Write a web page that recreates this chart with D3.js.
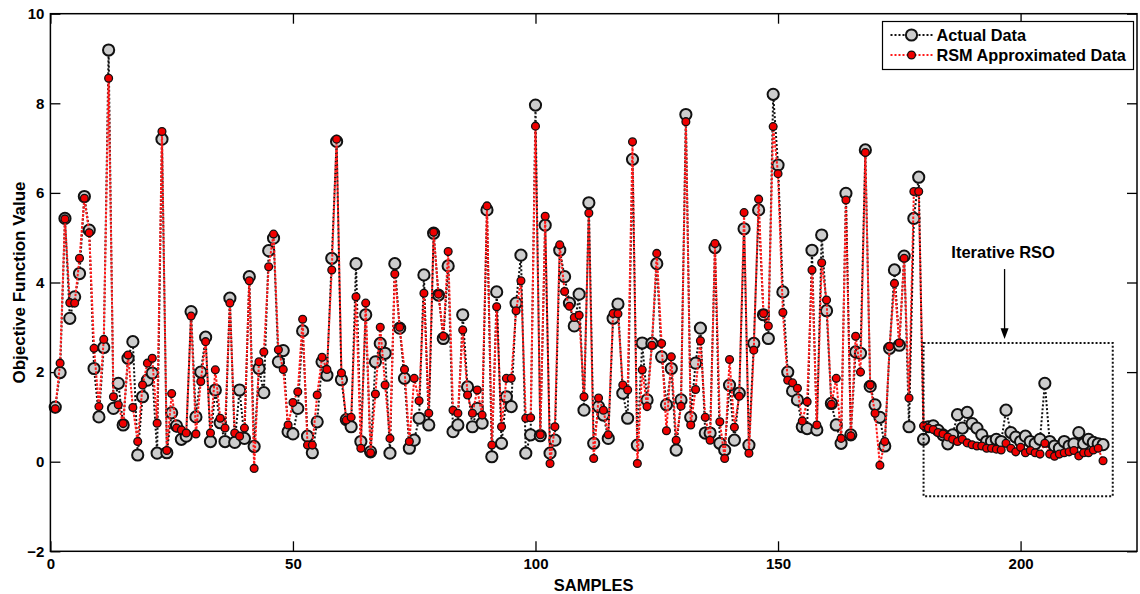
<!DOCTYPE html>
<html>
<head>
<meta charset="utf-8">
<script src="https://cdn.jsdelivr.net/npm/d3@7"></script>
<style>
  body { margin: 0; background: #fff; }
  svg { display: block; }
  text { font-family: "Liberation Sans", Arial, Helvetica, sans-serif; font-weight: bold; fill: #000; }
</style>
</head>
<body>
<svg id="chart" width="1140" height="594"></svg>
<script>
// Objective function value per sample: measured values and RSM approximation
const actualData = [
  1.22, 1.99, 5.43, 3.20, 3.68, 4.20, 5.92, 5.17, 2.08, 1.00,
  2.55, 9.19, 1.19, 1.75, 0.82, 2.31, 2.68, 0.15, 1.45, 1.82,
  1.98, 0.19, 7.20, 0.20, 1.09, 0.80, 0.50, 0.57, 3.35, 1.00,
  2.00, 2.78, 0.45, 1.60, 0.87, 0.45, 3.65, 0.43, 1.60, 0.52,
  4.13, 0.34, 2.08, 1.54, 4.71, 4.99, 2.23, 2.48, 0.67, 0.62,
  1.19, 2.92, 0.57, 0.20, 0.89, 2.23, 1.93, 4.54, 7.15, 1.83,
  0.94, 0.78, 4.42, 0.45, 3.28, 0.22, 2.23, 2.64, 2.42, 0.19,
  4.42, 2.98, 1.86, 0.30, 0.48, 0.97, 4.17, 0.82, 5.10, 3.72,
  2.75, 4.37, 0.67, 0.82, 3.28, 1.67, 0.78, 1.19, 0.86, 5.62,
  0.11, 3.79, 0.41, 1.45, 1.23, 3.54, 4.61, 0.19, 0.60, 7.96,
  0.58, 5.28, 0.19, 0.48, 4.72, 4.13, 3.54, 3.03, 3.74, 1.15,
  5.78, 0.41, 1.23, 1.04, 0.52, 3.20, 3.52, 1.53, 0.97, 6.75,
  0.37, 2.65, 1.38, 2.64, 4.42, 2.34, 1.27, 2.08, 0.26, 1.38,
  7.75, 0.99, 2.20, 2.98, 0.64, 0.64, 4.78, 0.41, 0.26, 1.71,
  0.48, 1.53, 5.20, 0.37, 2.64, 5.62, 3.28, 2.75, 8.20, 6.62,
  3.79, 2.00, 1.58, 1.38, 0.78, 0.74, 4.72, 0.71, 5.06, 3.37,
  1.30, 0.82, 0.41, 5.99, 0.60, 2.45, 2.42, 6.96, 1.68, 1.27,
  0.99, 0.35, 2.53, 4.28, 2.60, 4.59, 0.78, 5.43, 6.35, 0.50,
  0.78, 0.80, 0.70, 0.60, 0.40, 0.60, 1.05, 0.75, 1.10, 0.85,
  0.75, 0.60, 0.45, 0.45, 0.50, 0.45, 1.15, 0.65, 0.55, 0.45,
  0.57, 0.45, 0.40, 0.50, 1.75, 0.45, 0.35, 0.30, 0.45, 0.35,
  0.40, 0.65, 0.40, 0.50, 0.43, 0.40, 0.38
];

const rsmData = [
  1.18, 2.20, 5.42, 3.55, 3.54, 4.54, 5.88, 5.11, 2.53, 1.23,
  2.73, 8.56, 1.45, 1.27, 0.85, 2.38, 1.21, 0.45, 1.71, 2.20,
  2.31, 0.86, 7.37, 0.25, 1.52, 0.75, 0.71, 0.64, 3.25, 0.62,
  1.79, 2.68, 0.64, 2.05, 0.97, 0.75, 3.54, 0.64, 0.57, 0.75,
  4.04, -0.15, 2.23, 2.45, 4.35, 5.08, 2.50, 2.06, 0.82, 1.32,
  1.56, 3.18, 0.37, 0.37, 1.49, 2.33, 2.06, 4.28, 7.20, 1.98,
  0.93, 0.99, 3.68, 0.30, 3.54, 0.20, 1.51, 3.00, 1.71, 0.52,
  4.19, 3.00, 2.06, 0.45, 1.86, 1.36, 3.76, 1.08, 5.12, 3.74,
  2.80, 4.69, 1.15, 1.08, 2.94, 1.49, 1.08, 1.60, 1.04, 5.71,
  0.37, 3.46, 0.78, 1.86, 1.86, 3.37, 4.04, 0.97, 0.98, 7.49,
  0.60, 5.48, -0.04, 0.78, 4.84, 3.80, 3.47, 3.22, 3.27, 1.45,
  5.55, 0.07, 1.42, 1.15, 0.60, 3.31, 3.30, 1.71, 1.60, 7.14,
  -0.04, 2.05, 1.23, 2.60, 4.65, 2.64, 0.69, 2.34, 0.48, 1.24,
  7.59, 0.82, 1.61, 2.70, 0.99, 0.48, 4.87, 0.89, 0.07, 2.28,
  0.77, 1.46, 5.56, 0.19, 2.49, 5.86, 3.31, 3.03, 7.48, 6.43,
  3.33, 1.82, 1.76, 1.64, 0.91, 1.34, 4.28, 0.82, 4.44, 3.61,
  1.28, 1.86, 0.52, 5.84, 0.58, 2.80, 2.00, 6.90, 1.71, 1.08,
  -0.08, 0.45, 2.57, 3.98, 2.65, 4.54, 1.42, 6.03, 6.03, 0.80,
  0.75, 0.72, 0.65, 0.62, 0.55, 0.50, 0.45, 0.50, 0.42, 0.38,
  0.35, 0.35, 0.30, 0.30, 0.28, 0.26, 0.41, 0.30, 0.22, 0.32,
  0.20, 0.25, 0.20, 0.17, 0.41, 0.17, 0.12, 0.17, 0.20, 0.22,
  0.25, 0.13, 0.20, 0.20, 0.26, 0.30, 0.02
];

const sampleIds = actualData.map((_, i) => i + 1);
const xTickValues = [0, 50, 100, 150, 200];
const yTickValues = [-2, 0, 2, 4, 6, 8, 10];
const seriesNames = ["Actual Data", "RSM Approximated Data"];

// ---- layout ----
const svg = d3.select("#chart");
const plot = { left: 50.4, right: 1137, top: 13.7, bottom: 551.3 };

const x = d3.scaleLinear().domain([0, 224]).range([plot.left, plot.right]);
const y = d3.scaleLinear().domain([-2, 10]).range([plot.bottom, plot.top]);

// ---- axes (ticks point inward on all four sides) ----
function styleAxis(g) {
  g.selectAll("path.domain").remove();
  g.selectAll("line").attr("stroke", "#000").attr("stroke-width", 1.3);
  g.selectAll("text").style("font-size", "15px").style("font-weight", "bold")
    .style("font-family", '"Liberation Sans", Arial, sans-serif').attr("fill", "#000");
}

svg.append("g")
  .attr("transform", `translate(0,${plot.bottom})`)
  .call(d3.axisBottom(x).tickValues(xTickValues).tickSizeInner(-10).tickSizeOuter(0).tickPadding(7))
  .call(styleAxis);

svg.append("g")
  .attr("transform", `translate(0,${plot.top})`)
  .call(d3.axisTop(x).tickValues(xTickValues).tickSizeInner(-10).tickSizeOuter(0).tickFormat(""))
  .call(styleAxis);

svg.append("g")
  .attr("transform", `translate(${plot.left},0)`)
  .call(d3.axisLeft(y).tickValues(yTickValues).tickSizeInner(-10).tickSizeOuter(0).tickPadding(6))
  .call(styleAxis);

svg.append("g")
  .attr("transform", `translate(${plot.right},0)`)
  .call(d3.axisRight(y).tickValues(yTickValues).tickSizeInner(-10).tickSizeOuter(0).tickFormat(""))
  .call(styleAxis);

// axis titles
svg.append("text")
  .attr("x", (plot.left + plot.right) / 2)
  .attr("y", 591)
  .attr("text-anchor", "middle")
  .style("font-size", "16.5px")
  .text("SAMPLES");

svg.append("text")
  .attr("transform", `translate(25,${(plot.top + plot.bottom) / 2}) rotate(-90)`)
  .attr("text-anchor", "middle")
  .style("font-size", "17px")
  .text("Objective Function Value");

// ---- series ----
const line = d3.line()
  .x((d, i) => x(sampleIds[i]))
  .y(d => y(d));

const dataLayer = svg.append("g");

dataLayer.append("path")
  .datum(actualData)
  .attr("d", line)
  .attr("fill", "none")
  .attr("stroke", "#111")
  .attr("stroke-width", 2)
  .attr("stroke-dasharray", "2,2");

dataLayer.append("g").selectAll("circle")
  .data(actualData)
  .join("circle")
  .attr("cx", (d, i) => x(sampleIds[i]))
  .attr("cy", d => y(d))
  .attr("r", 5.6)
  .attr("fill", "#cdcdcd")
  .attr("stroke", "#111")
  .attr("stroke-width", 2);

dataLayer.append("path")
  .datum(rsmData)
  .attr("d", line)
  .attr("fill", "none")
  .attr("stroke", "#ff1a1a")
  .attr("stroke-width", 2)
  .attr("stroke-dasharray", "2.5,1.5")
  .attr("stroke-dashoffset", 2);

dataLayer.append("g").selectAll("circle")
  .data(rsmData)
  .join("circle")
  .attr("cx", (d, i) => x(sampleIds[i]))
  .attr("cy", d => y(d))
  .attr("r", 3.9)
  .attr("fill", "#f00000")
  .attr("stroke", "#111")
  .attr("stroke-width", 1.3);

// ---- frame ----
svg.append("rect")
  .attr("x", plot.left).attr("y", plot.top)
  .attr("width", plot.right - plot.left).attr("height", plot.bottom - plot.top)
  .attr("fill", "none").attr("stroke", "#000").attr("stroke-width", 1.5);

// ---- iterative RSO annotation ----
const rso = svg.append("g");
rso.append("rect")
  .attr("x", x(180)).attr("y", y(2.65))
  .attr("width", x(219) - x(180)).attr("height", y(-0.77) - y(2.65))
  .attr("fill", "none").attr("stroke", "#111")
  .attr("stroke-width", 2).attr("stroke-dasharray", "2,2");

rso.append("text")
  .attr("x", x(196.4)).attr("y", y(4.54))
  .attr("text-anchor", "middle")
  .style("font-size", "16.5px")
  .text("Iterative RSO");

const arrowX = x(196.7);
rso.append("line")
  .attr("x1", arrowX).attr("x2", arrowX)
  .attr("y1", y(4.3)).attr("y2", y(2.95))
  .attr("stroke", "#000").attr("stroke-width", 1.3);
rso.append("path")
  .attr("d", `M${arrowX - 4},${y(2.98)} L${arrowX + 4},${y(2.98)} L${arrowX},${y(2.74)} Z`)
  .attr("fill", "#000");

// ---- legend ----
const legend = svg.append("g").attr("transform", "translate(882.5,21.5)");
legend.append("rect")
  .attr("width", 251).attr("height", 48)
  .attr("fill", "#fff").attr("stroke", "#000").attr("stroke-width", 1.2);

const legendRows = [
  { name: seriesNames[0], stroke: "#111", fill: "#cdcdcd", r: 5.6, sw: 2 },
  { name: seriesNames[1], stroke: "#ff1a1a", fill: "#f00000", r: 3.9, sw: 1.3 }
];
legendRows.forEach((row, k) => {
  const cy = 13.5 + k * 20;
  legend.append("line")
    .attr("x1", 8).attr("x2", 50).attr("y1", cy).attr("y2", cy)
    .attr("stroke", row.stroke).attr("stroke-width", 2)
    .attr("stroke-dasharray", "2,2");
  legend.append("circle")
    .attr("cx", 29).attr("cy", cy).attr("r", row.r)
    .attr("fill", row.fill).attr("stroke", "#111").attr("stroke-width", row.sw);
  legend.append("text")
    .attr("x", 54).attr("y", cy + 5.5)
    .style("font-size", "16.3px")
    .text(row.name);
});
</script>
</body>
</html>
